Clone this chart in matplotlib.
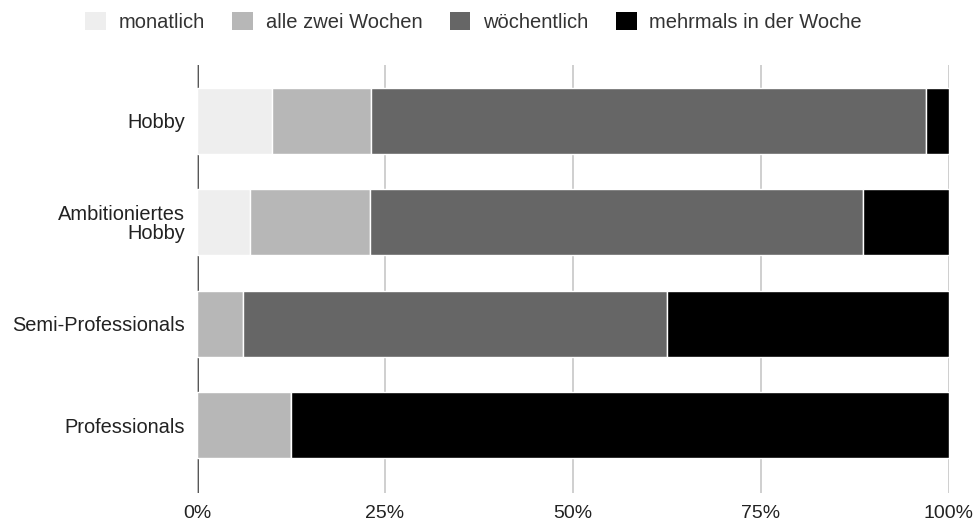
import numpy as np
import matplotlib.pyplot as plt
from matplotlib.patches import Patch

plt.rcParams['font.family'] = ['Liberation Sans', 'DejaVu Sans']

# share of training frequency per group, in percent
groups = ['Hobby', 'Ambitioniertes\nHobby', 'Semi-Professionals', 'Professionals']
series = ['monatlich', 'alle zwei Wochen', 'wöchentlich', 'mehrmals in der Woche']
monatlich = [10.0, 7.0, 0.0, 0.0]
zwei_wochen = [13.2, 16.0, 6.1, 12.5]
woechentlich = [73.7, 65.5, 56.4, 0.0]
mehrmals = [3.1, 11.5, 37.5, 87.5]
colors = ['#eeeeee', '#b7b7b7', '#666666', '#000000']

values = np.array([monatlich, zwei_wochen, woechentlich, mehrmals])

fig = plt.figure(figsize=(9.79, 5.23), dpi=100)
ax = fig.add_axes([197/979, 1 - 493/523, (949 - 197)/979, (493 - 65)/523])

y = np.arange(len(groups))
left = np.zeros(len(groups))
for vals, col, name in zip(values, colors, series):
    ax.barh(y, vals, left=left, height=0.65, color=col, edgecolor='white',
            linewidth=1.0, label=name, zorder=3)
    left += vals

ax.set_xlim(0, 100)
ax.set_ylim(3.665, -0.55)
ax.set_xticks([0, 25, 50, 75, 100])
ax.set_xticklabels(['0%', '25%', '50%', '75%', '100%'], fontsize=14, color='#222222')
ax.set_yticks(y)
ax.set_yticklabels(groups, fontsize=14.4, color='#222222', linespacing=1.0)
ax.tick_params(axis='x', length=0, pad=9)
ax.tick_params(axis='y', length=0, pad=8.5)

ax.grid(axis='x', color='#cccccc', linewidth=1.3, zorder=0)
ax.axvline(0, color='#444444', linewidth=2, zorder=1)
for s in ax.spines.values():
    s.set_visible(False)

handles = [Patch(facecolor=c, edgecolor='none') for c in colors]
fig.legend(handles, series, loc='center', bbox_to_anchor=(0.4837, 1 - 22/523), ncol=4,
           frameon=False, fontsize=14.5, handlelength=1.04, handleheight=1.04,
           columnspacing=1.34, handletextpad=0.64, labelcolor='#333333')

fig.savefig('out.png', dpi=100)
